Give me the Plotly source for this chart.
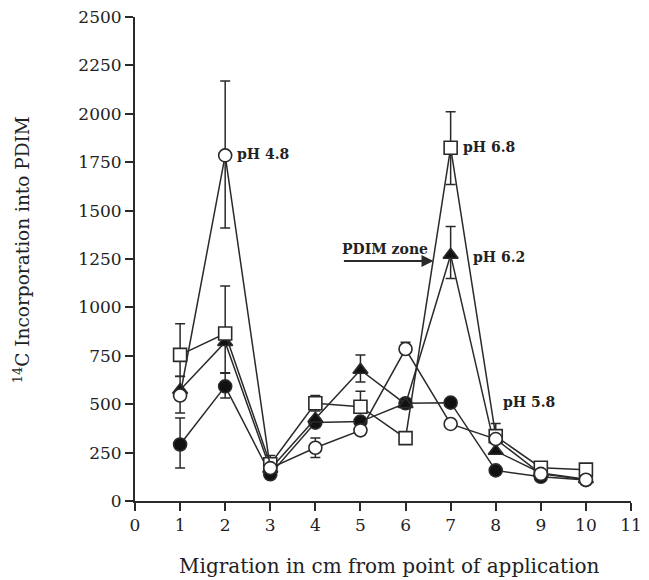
import plotly.graph_objects as go

x_cm = [1, 2, 3, 4, 5, 6, 7, 8, 9, 10]

ph48 = [545, 1785, 170, 275, 365, 785, 398, 320, 140, 110]
ph48_up = [0, 385, 0, 50, 0, 35, 0, 0, 0, 0]
ph48_dn = [90, 375, 0, 50, 0, 0, 0, 0, 0, 0]

ph68 = [755, 865, 190, 505, 487, 325, 1825, 335, 172, 162]
ph68_up = [160, 245, 45, 40, 80, 0, 185, 65, 0, 0]
ph68_dn = [110, 0, 0, 40, 0, 0, 190, 0, 0, 0]

ph62 = [573, 820, 165, 425, 677, 500, 1271, 258, 145, 112]
ph62_up = [70, 0, 0, 0, 77, 0, 147, 0, 0, 0]
ph62_dn = [0, 160, 0, 0, 62, 0, 122, 0, 0, 0]

ph58 = [292, 592, 138, 405, 410, 505, 508, 158, 125, 108]
ph58_up = [137, 70, 0, 0, 0, 0, 0, 0, 0, 0]
ph58_dn = [122, 60, 0, 0, 0, 0, 0, 0, 0, 0]

x_ticks = list(range(0, 12))
y_ticks = list(range(0, 2501, 250))

LINE = "#2a2a2a"
FONT = "DejaVu Serif"

fig = go.Figure()

def add(y, up, dn, symbol, fill):
    fig.add_trace(go.Scatter(
        x=x_cm, y=y, mode="lines+markers",
        line=dict(color=LINE, width=1.5),
        marker=dict(symbol=symbol, size=13, color=fill,
                    line=dict(color=LINE, width=1.6)),
        error_y=dict(type="data", symmetric=False, array=up, arrayminus=dn,
                     color=LINE, thickness=1.5, width=5),
        showlegend=False, cliponaxis=False,
    ))

add(ph58, ph58_up, ph58_dn, "circle", "#111111")
add(ph62, ph62_up, ph62_dn, "triangle-up", "#111111")
add(ph68, ph68_up, ph68_dn, "square", "white")
add(ph48, ph48_up, ph48_dn, "circle", "white")

lab_font = dict(family=FONT, size=14, color="#222222")
ann = [
    dict(x=2.22, y=1790, text="<b>pH 4.8</b>", xanchor="left"),
    dict(x=7.24, y=1830, text="<b>pH 6.8</b>", xanchor="left"),
    dict(x=7.45, y=1262, text="<b>pH 6.2</b>", xanchor="left"),
    dict(x=8.12, y=510, text="<b>pH 5.8</b>", xanchor="left"),
    dict(x=5.55, y=1300, text="<b>PDIM zone</b>", xanchor="center"),
]
for a in ann:
    fig.add_annotation(xref="x", yref="y", showarrow=False, font=lab_font,
                       yanchor="middle", **a)

fig.add_annotation(xref="x", yref="y", x=6.62, y=1240, ax=4.6, ay=1240,
                   axref="x", ayref="y", text="", showarrow=True,
                   arrowhead=2, arrowsize=1.2, arrowwidth=2, arrowcolor=LINE)

fig.add_annotation(xref="paper", yref="paper", x=-0.228, y=0.52,
                   text="<sup>14</sup>C Incorporation into PDIM",
                   textangle=-90, showarrow=False, xanchor="center", yanchor="middle",
                   font=dict(family=FONT, size=18.5, color="#222222"))
fig.add_annotation(xref="paper", yref="paper", x=0.514, y=-0.134,
                   text="Migration in cm from point of application",
                   showarrow=False, xanchor="center", yanchor="middle",
                   font=dict(family=FONT, size=20, color="#222222"))

fig.update_xaxes(range=[0, 11], tickvals=x_ticks, ticks="outside", ticklen=8,
                 tickwidth=2, tickcolor=LINE, showline=True, linecolor=LINE,
                 linewidth=2, showgrid=False, zeroline=False, automargin=False,
                 ticklabeloverflow="allow",
                 tickfont=dict(family=FONT, size=17, color="#222222"),
                 tickprefix="<b>", ticksuffix="</b>")
fig.update_yaxes(range=[0, 2500], tickvals=y_ticks, ticks="outside", ticklen=8,
                 tickwidth=2, tickcolor=LINE, showline=True, linecolor=LINE,
                 linewidth=2, showgrid=False, zeroline=False, automargin=False,
                 ticklabeloverflow="allow",
                 tickfont=dict(family=FONT, size=17, color="#222222"),
                 tickprefix="<b>", ticksuffix="</b>")

# page body adds an 8px offset at top/left, so the figure is 8px smaller than the window
fig.update_layout(width=641, height=572, margin=dict(l=127, r=18, t=9, b=79),
                  plot_bgcolor="white", paper_bgcolor="white")

fig.write_html("out.html")
